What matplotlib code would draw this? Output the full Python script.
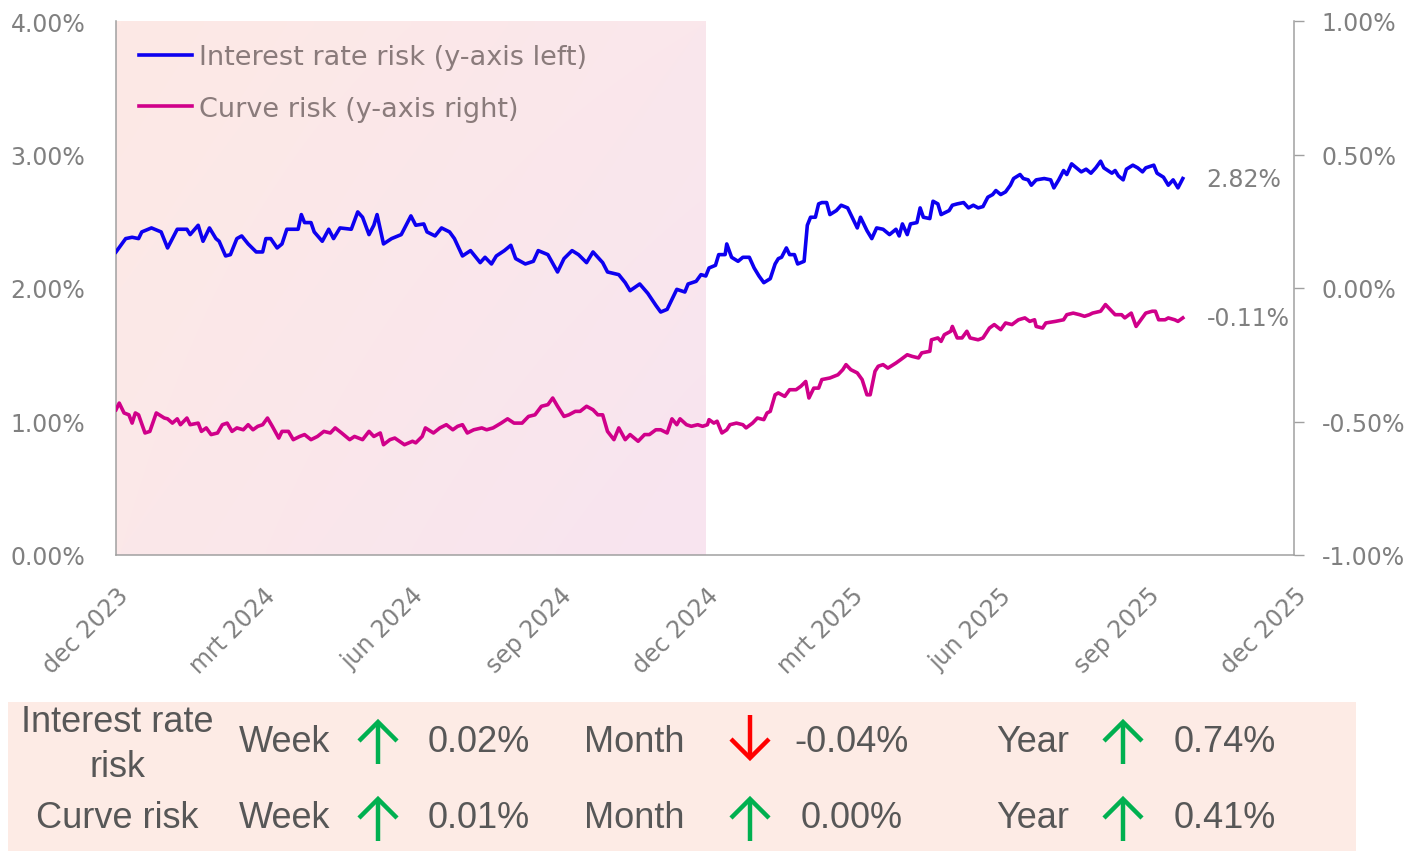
import numpy as np
import matplotlib
matplotlib.use('Agg')
import matplotlib.pyplot as plt
import matplotlib.dates as mdates
from matplotlib.lines import Line2D
from matplotlib.patches import Rectangle
from matplotlib.transforms import ScaledTranslation

# ---------------- data ----------------
START = np.datetime64('2023-12-01')

ir_days = [0, 6, 10, 14, 16, 22, 28, 32, 38, 44, 46, 51, 54, 58, 62, 64, 68, 71, 75, 78,
           82, 87, 91, 93, 96, 100, 103, 106, 113, 115, 117, 121, 123, 128, 132, 135, 139, 146, 150, 153,
           157, 160, 162, 164, 166, 171, 177, 183, 186, 191, 193, 198, 202, 207, 210, 215, 220, 226, 229, 233,
           236, 241, 245, 248, 254, 259, 262, 268, 274, 278, 283, 287, 292, 296, 302, 305, 312, 316, 319, 325,
           330, 335, 338, 342, 348, 353, 355, 360, 363, 366, 368, 372, 374, 378, 379, 382, 386, 389, 393, 396,
           399, 402, 406, 409, 411, 413, 416, 418, 421, 423, 427, 429, 431, 434, 436, 438, 441, 443, 447, 450,
           454, 456, 460, 462, 466, 469, 472, 476, 480, 484, 486, 488, 491, 493, 497, 499, 501, 505, 507, 510,
           512, 517, 519, 522, 526, 529, 532, 535, 538, 541, 544, 546, 549, 552, 555, 557, 561, 563, 566, 568,
           571, 576, 580, 582, 585, 588, 590, 593, 596, 599, 602, 605, 608, 611, 613, 618, 620, 622, 625, 627,
           631, 634, 637, 639, 644, 646, 650, 653, 656, 659, 662]
ir_values = [2.27, 2.37, 2.38, 2.37, 2.42, 2.45, 2.42, 2.30, 2.44, 2.44, 2.40, 2.47, 2.35, 2.45, 2.37, 2.35, 2.24, 2.25, 2.37, 2.39,
             2.33, 2.27, 2.27, 2.37, 2.37, 2.30, 2.33, 2.44, 2.44, 2.55, 2.49, 2.49, 2.42, 2.35, 2.44, 2.37, 2.45, 2.44, 2.57, 2.53,
             2.40, 2.47, 2.55, 2.44, 2.33, 2.37, 2.40, 2.54, 2.47, 2.48, 2.42, 2.39, 2.45, 2.42, 2.37, 2.24, 2.28, 2.19, 2.23, 2.18,
             2.24, 2.28, 2.32, 2.22, 2.18, 2.20, 2.28, 2.25, 2.12, 2.22, 2.28, 2.25, 2.19, 2.27, 2.19, 2.12, 2.10, 2.04, 1.98, 2.03,
             1.96, 1.87, 1.82, 1.84, 1.99, 1.97, 2.03, 2.05, 2.10, 2.09, 2.15, 2.17, 2.25, 2.25, 2.33, 2.23, 2.20, 2.23, 2.23, 2.15,
             2.09, 2.04, 2.07, 2.18, 2.22, 2.23, 2.30, 2.25, 2.25, 2.18, 2.20, 2.47, 2.53, 2.53, 2.63, 2.64, 2.64, 2.55, 2.58, 2.62,
             2.60, 2.55, 2.45, 2.53, 2.43, 2.37, 2.45, 2.44, 2.40, 2.44, 2.39, 2.48, 2.40, 2.48, 2.49, 2.60, 2.53, 2.52, 2.65, 2.63,
             2.55, 2.58, 2.62, 2.63, 2.64, 2.60, 2.62, 2.60, 2.61, 2.68, 2.70, 2.73, 2.70, 2.72, 2.77, 2.82, 2.85, 2.82, 2.81, 2.77,
             2.81, 2.82, 2.81, 2.75, 2.81, 2.88, 2.85, 2.93, 2.90, 2.87, 2.89, 2.86, 2.90, 2.95, 2.90, 2.86, 2.88, 2.84, 2.81, 2.89,
             2.92, 2.90, 2.87, 2.90, 2.92, 2.86, 2.83, 2.77, 2.81, 2.75, 2.82]

cr_days = [0, 2, 5, 8, 10, 12, 14, 18, 21, 25, 30, 32, 35, 38, 40, 44, 46, 51, 53, 56,
           59, 63, 66, 69, 72, 75, 79, 82, 85, 88, 91, 94, 97, 101, 103, 107, 110, 114, 117, 121,
           125, 129, 133, 136, 140, 145, 148, 153, 157, 160, 164, 166, 170, 173, 179, 184, 186, 190, 192, 197,
           201, 205, 209, 212, 215, 218, 222, 227, 230, 234, 239, 243, 247, 252, 256, 260, 264, 268, 271, 274,
           278, 281, 285, 288, 292, 296, 299, 302, 305, 309, 312, 316, 319, 324, 328, 331, 335, 338, 342, 345,
           348, 350, 354, 357, 361, 364, 367, 368, 371, 373, 376, 379, 381, 385, 389, 391, 395, 398, 402, 404,
           406, 409, 411, 415, 418, 422, 425, 428, 430, 433, 436, 438, 443, 448, 451, 453, 456, 460, 463, 466,
           468, 471, 473, 476, 479, 484, 487, 491, 494, 498, 500, 505, 506, 510, 512, 514, 518, 519, 522, 525,
           528, 530, 535, 538, 542, 545, 549, 552, 556, 560, 564, 567, 570, 571, 575, 577, 583, 588, 590, 594,
           598, 601, 604, 606, 611, 614, 617, 620, 624, 626, 630, 633, 636, 639, 643, 645, 647, 651, 653, 657,
           659, 662]
cr_values = [-0.456, -0.431, -0.468, -0.475, -0.506, -0.468, -0.475, -0.543, -0.537, -0.468, -0.487, -0.490, -0.506, -0.490, -0.512, -0.487, -0.512, -0.506, -0.537, -0.524,
             -0.549, -0.543, -0.512, -0.506, -0.537, -0.524, -0.531, -0.512, -0.531, -0.518, -0.512, -0.487, -0.518, -0.562, -0.537, -0.537, -0.568, -0.556, -0.549, -0.568,
             -0.556, -0.537, -0.543, -0.524, -0.543, -0.568, -0.556, -0.568, -0.537, -0.556, -0.543, -0.587, -0.568, -0.562, -0.587, -0.574, -0.580, -0.556, -0.524, -0.543,
             -0.524, -0.512, -0.531, -0.518, -0.512, -0.543, -0.531, -0.524, -0.531, -0.524, -0.506, -0.490, -0.506, -0.506, -0.481, -0.475, -0.443, -0.437, -0.412, -0.443,
             -0.481, -0.475, -0.462, -0.462, -0.443, -0.456, -0.475, -0.475, -0.537, -0.568, -0.524, -0.568, -0.549, -0.574, -0.549, -0.549, -0.531, -0.531, -0.543, -0.490,
             -0.512, -0.490, -0.512, -0.518, -0.512, -0.518, -0.512, -0.493, -0.506, -0.499, -0.543, -0.531, -0.512, -0.506, -0.512, -0.524, -0.506, -0.487, -0.493, -0.468,
             -0.462, -0.400, -0.393, -0.406, -0.381, -0.381, -0.368, -0.350, -0.412, -0.375, -0.375, -0.343, -0.337, -0.325, -0.306, -0.287, -0.306, -0.318, -0.343, -0.400,
             -0.400, -0.312, -0.293, -0.287, -0.300, -0.281, -0.268, -0.250, -0.256, -0.262, -0.243, -0.237, -0.194, -0.187, -0.200, -0.175, -0.162, -0.144, -0.187, -0.187,
             -0.162, -0.187, -0.194, -0.187, -0.150, -0.137, -0.156, -0.131, -0.137, -0.119, -0.112, -0.125, -0.119, -0.144, -0.150, -0.131, -0.125, -0.119, -0.100, -0.094,
             -0.100, -0.106, -0.100, -0.094, -0.087, -0.062, -0.081, -0.100, -0.100, -0.112, -0.094, -0.144, -0.119, -0.094, -0.087, -0.087, -0.119, -0.119, -0.112, -0.119,
             -0.125, -0.112]

tick_dates = ['2023-12-01', '2024-03-01', '2024-06-01', '2024-09-01', '2024-12-01',
              '2025-03-01', '2025-06-01', '2025-09-01', '2025-12-01']
tick_labels = ['dec 2023', 'mrt 2024', 'jun 2024', 'sep 2024', 'dec 2024',
               'mrt 2025', 'jun 2025', 'sep 2025', 'dec 2025']
shade_range = ['2023-12-01', '2024-12-01']
left_ticks = [0, 1, 2, 3, 4]
right_ticks = [-1.0, -0.5, 0.0, 0.5, 1.0]

series_labels = ['Interest rate risk (y-axis left)', 'Curve risk (y-axis right)']
table_rows = ['Interest rate\nrisk', 'Curve risk']
periods = ['Week', 'Month', 'Year']
changes = [[0.02, -0.04, 0.74],
           [0.01, 0.00, 0.41]]

# ---------------- style ----------------
BLUE = '#0d00f0'
MAG = '#d0008a'
GRAY = '#808080'
SPINE = '#a0a0a0'
LEG_TXT = '#8a7b7b'
TBL_TXT = '#575757'
TBL_BG = '#fdebe5'
UP = '#00b050'
DOWN = '#ff0000'
CHART_FONT = ['DejaVu Sans']
TBL_FONT = ['Liberation Sans', 'DejaVu Sans']
FS = 17

W, H = 1416, 853
fig = plt.figure(figsize=(W / 100, H / 100), dpi=100)
fig.patch.set_facecolor('white')

ax = fig.add_axes([116 / W, 1 - 556 / H, (1294 - 116) / W, (556 - 22) / H])
ax2 = ax.twinx()

ir_dates = START + np.array(ir_days).astype('timedelta64[D]')
cr_dates = START + np.array(cr_days).astype('timedelta64[D]')

l1, = ax.plot(ir_dates, ir_values, color=BLUE, lw=2.6, zorder=3, solid_joinstyle='round')
l2, = ax2.plot(cr_dates, cr_values, color=MAG, lw=2.6, zorder=3, solid_joinstyle='round')

# gradient shading
s0 = mdates.date2num(np.datetime64(shade_range[0]))
s1 = mdates.date2num(np.datetime64(shade_range[1]))
TL = np.array([253, 233, 229]) / 255
TR = np.array([250, 231, 236]) / 255
BL = np.array([251, 232, 233]) / 255
BR = np.array([248, 228, 240]) / 255
u = np.linspace(0, 1, 60)[None, :, None]
v = np.linspace(0, 1, 60)[:, None, None]
grad = TL * (1 - u) * (1 - v) + TR * u * (1 - v) + BL * (1 - u) * v + BR * u * v
ax.imshow(grad, extent=[s0, s1, left_ticks[0], left_ticks[-1]], aspect='auto',
          origin='upper', zorder=0, interpolation='bilinear')

xt = [mdates.date2num(np.datetime64(d)) for d in tick_dates]
ax.set_xlim(xt[0], xt[-1])
ax.set_ylim(left_ticks[0], left_ticks[-1])
ax2.set_ylim(right_ticks[0], right_ticks[-1])

ax.set_xticks(xt)
ax.set_xticklabels(tick_labels, rotation=45, ha='right', rotation_mode='anchor',
                   fontsize=FS, color=GRAY, family=CHART_FONT)
off = ScaledTranslation(10 / 100, 0, fig.dpi_scale_trans)
for lab in ax.get_xticklabels():
    lab.set_transform(lab.get_transform() + off)
ax.tick_params(axis='x', length=0, pad=20)

ax.set_yticks(left_ticks)
ax.set_yticklabels([f'{t:.2f}%' for t in left_ticks], fontsize=FS, color=GRAY, family=CHART_FONT)
ax.tick_params(axis='y', length=0, pad=22)

ax2.set_yticks(right_ticks)
ax2.set_yticklabels([f'{t:.2f}%' for t in right_ticks], fontsize=FS, color=GRAY, family=CHART_FONT)
ax2.tick_params(axis='y', length=7, width=1, color=SPINE, pad=13, direction='out')

for a in (ax, ax2):
    for s in a.spines.values():
        s.set_visible(False)
ax.spines['left'].set_visible(True)
ax.spines['bottom'].set_visible(True)
ax2.spines['right'].set_visible(True)
for s in (ax.spines['left'], ax.spines['bottom'], ax2.spines['right']):
    s.set_color(SPINE)
    s.set_linewidth(1.1)

# end labels
ax.annotate(f'{ir_values[-1]:.2f}%', xy=(mdates.date2num(ir_dates[-1]), ir_values[-1]),
            xytext=(17, 0), textcoords='offset points', va='center', ha='left',
            fontsize=FS, color=GRAY, family=CHART_FONT)
ax2.annotate(f'{cr_values[-1]:.2f}%', xy=(mdates.date2num(cr_dates[-1]), cr_values[-1]),
             xytext=(17, 0), textcoords='offset points', va='center', ha='left',
             fontsize=FS, color=GRAY, family=CHART_FONT)

# legend
handles = [Line2D([0], [0], color=BLUE, lw=2.6), Line2D([0], [0], color=MAG, lw=2.6)]
leg = ax2.legend(handles, series_labels, loc='upper left', bbox_to_anchor=(0.0, 1.0),
                 frameon=False, prop={'family': CHART_FONT, 'size': 19.5},
                 handlelength=1.95, handletextpad=0.26, labelspacing=0.95, borderaxespad=0.45)
for t in leg.get_texts():
    t.set_color(LEG_TXT)

# ---------------- bottom table ----------------
ov = fig.add_axes([0, 0, 1, 1])
ov.set_xlim(0, W)
ov.set_ylim(H, 0)
ov.axis('off')
ov.add_patch(Rectangle((8, 703), 1348, 149, facecolor=TBL_BG, edgecolor='none', zorder=0))

row_y = [742, 819]
label_x = 117
period_x = [285, 634, 1033]
arrow_x = [378, 750, 1123]
value_x = [479, 852, 1225]
fs_tbl = 26

for r, (name, vals) in enumerate(zip(table_rows, changes)):
    y = row_y[r]
    ov.text(label_x, y + (3 if '\n' in name else 0), name, ha='center', va='center',
            fontsize=fs_tbl, color=TBL_TXT, family=TBL_FONT, linespacing=1.35)
    for c, (p, val) in enumerate(zip(periods, vals)):
        ov.text(period_x[c], y, p, ha='center', va='center', fontsize=fs_tbl,
                color=TBL_TXT, family=TBL_FONT)
        ov.text(value_x[c], y, f'{val:.2f}%', ha='center', va='center', fontsize=fs_tbl,
                color=TBL_TXT, family=TBL_FONT)
        up = val >= 0
        col = UP if up else DOWN
        ax_ = arrow_x[c]
        if up:
            tip, tail, dy = y - 19, y + 23, 19
        else:
            tip, tail, dy = y + 17, y - 26, -19
        ov.plot([ax_, ax_], [tail, tip], color=col, lw=3.2, solid_capstyle='butt', zorder=2)
        ov.plot([ax_ - 19, ax_, ax_ + 19], [tip + dy, tip, tip + dy], color=col, lw=3.2,
                solid_capstyle='butt', solid_joinstyle='miter', zorder=2)

fig.savefig('out.png', dpi=100, facecolor='white')
